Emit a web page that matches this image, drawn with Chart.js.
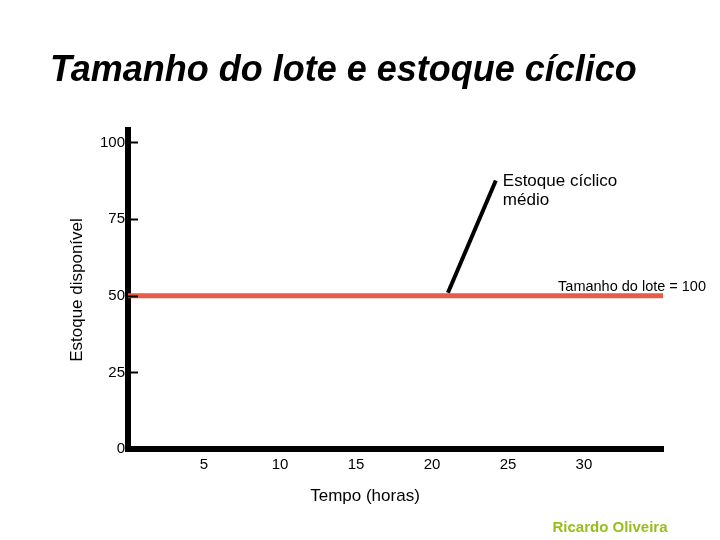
<!DOCTYPE html>
<html>
<head>
<meta charset="utf-8">
<script src="https://cdn.jsdelivr.net/npm/chart.js@4/dist/chart.umd.min.js"></script>
<style>
  html, body { margin: 0; padding: 0; background: #fff; }
  #wrap { width: 720px; height: 540px; }
</style>
</head>
<body>
<div id="wrap"><canvas id="myChart"></canvas></div>
<script>
// data
const yTicks = [0, 25, 50, 75, 100];
const xTicks = [5, 10, 15, 20, 25, 30];
const xMax = 35.2;
const yMax = 104;
const lotX = [0, 35.2];
const lotY = [50, 50];
const pointerX = [21.05, 24.2];
const pointerY = [51, 87.6];

const FONT = "'Liberation Sans', Arial, sans-serif";

function pts(xs, ys) {
    return xs.map((x, i) => ({ x: x, y: ys[i] }));
}

// extra texts + inner tick marks
const extras = {
    id: 'extras',
    afterDraw(chart) {
        const ctx = chart.ctx;
        const x = chart.scales.x;
        const y = chart.scales.y;
        const area = chart.chartArea;
        ctx.save();

        // small tick dashes inside the y axis
        ctx.strokeStyle = '#000';
        ctx.lineWidth = 2;
        yTicks.filter(v => v > 0).forEach(v => {
            const py = Math.round(y.getPixelForValue(v)) + 0.5;
            ctx.beginPath();
            ctx.moveTo(area.left, py);
            ctx.lineTo(area.left + 10, py);
            ctx.stroke();
        });

        ctx.fillStyle = '#000';
        ctx.textBaseline = 'middle';

        // pointer label
        ctx.font = '17px ' + FONT;
        ctx.textAlign = 'left';
        const lx = x.getPixelForValue(pointerX[1]) + 7;
        const ly = y.getPixelForValue(pointerY[1]);
        ctx.fillText('Estoque cíclico', lx, ly + 1);
        ctx.fillText('médio', lx, ly + 20);

        // lot size label
        ctx.font = '14.5px ' + FONT;
        ctx.textAlign = 'right';
        ctx.fillText('Tamanho do lote = 100', 706, y.getPixelForValue(lotY[1]) - 9);

        // axis titles
        ctx.font = '17px ' + FONT;
        ctx.textAlign = 'center';
        ctx.fillText('Tempo (horas)', 365, 496);

        ctx.save();
        ctx.translate(77, 290);
        ctx.rotate(-Math.PI / 2);
        ctx.font = '17px ' + FONT;
        ctx.fillText('Estoque disponível', 0, 0);
        ctx.restore();

        // signature
        ctx.font = 'bold 15px ' + FONT;
        ctx.fillStyle = '#98BE1E';
        ctx.fillText('Ricardo Oliveira', 610, 528);

        ctx.restore();
    }
};

const chart = new Chart(document.getElementById('myChart'), {
    type: 'line',
    data: {
        datasets: [
            {
                label: 'Tamanho do lote',
                data: pts(lotX, lotY),
                borderColor: '#E65C47',
                borderWidth: 5,
                pointRadius: 0
            },
            {
                label: 'Estoque cíclico médio',
                data: pts(pointerX, pointerY),
                borderColor: '#000',
                borderWidth: 4,
                pointRadius: 0,
                clip: false
            }
        ]
    },
    options: {
        responsive: true,
        maintainAspectRatio: false,
        animation: false,
        layout: { padding: { left: 50, right: 57, top: 0, bottom: 51 } },
        plugins: {
            legend: { display: false },
            tooltip: { enabled: false },
            title: {
                display: true,
                text: 'Tamanho do lote e estoque cíclico',
                align: 'start',
                color: '#000',
                font: { family: FONT, size: 36, style: 'italic', weight: 'bold', lineHeight: 1.2 },
                padding: { top: 49, bottom: 38 }
            }
        },
        scales: {
            x: {
                type: 'linear',
                min: 0,
                max: xMax,
                grid: { display: false, drawTicks: false },
                border: { display: true, width: 6, color: '#000' },
                afterBuildTicks: s => { s.ticks = xTicks.map(v => ({ value: v })); },
                afterFit: s => { s.height = 40; },
                ticks: {
                    color: '#000',
                    padding: 7,
                    maxRotation: 0,
                    font: { family: FONT, size: 15 }
                }
            },
            y: {
                min: 0,
                max: yMax,
                grid: { display: false, drawTicks: false },
                border: { display: true, width: 6, color: '#000' },
                afterBuildTicks: s => { s.ticks = yTicks.map(v => ({ value: v })); },
                afterFit: s => { s.width = 78; },
                ticks: {
                    color: '#000',
                    padding: 3,
                    font: { family: FONT, size: 15 }
                }
            }
        }
    },
    plugins: [extras]
});
</script>
</body>
</html>
